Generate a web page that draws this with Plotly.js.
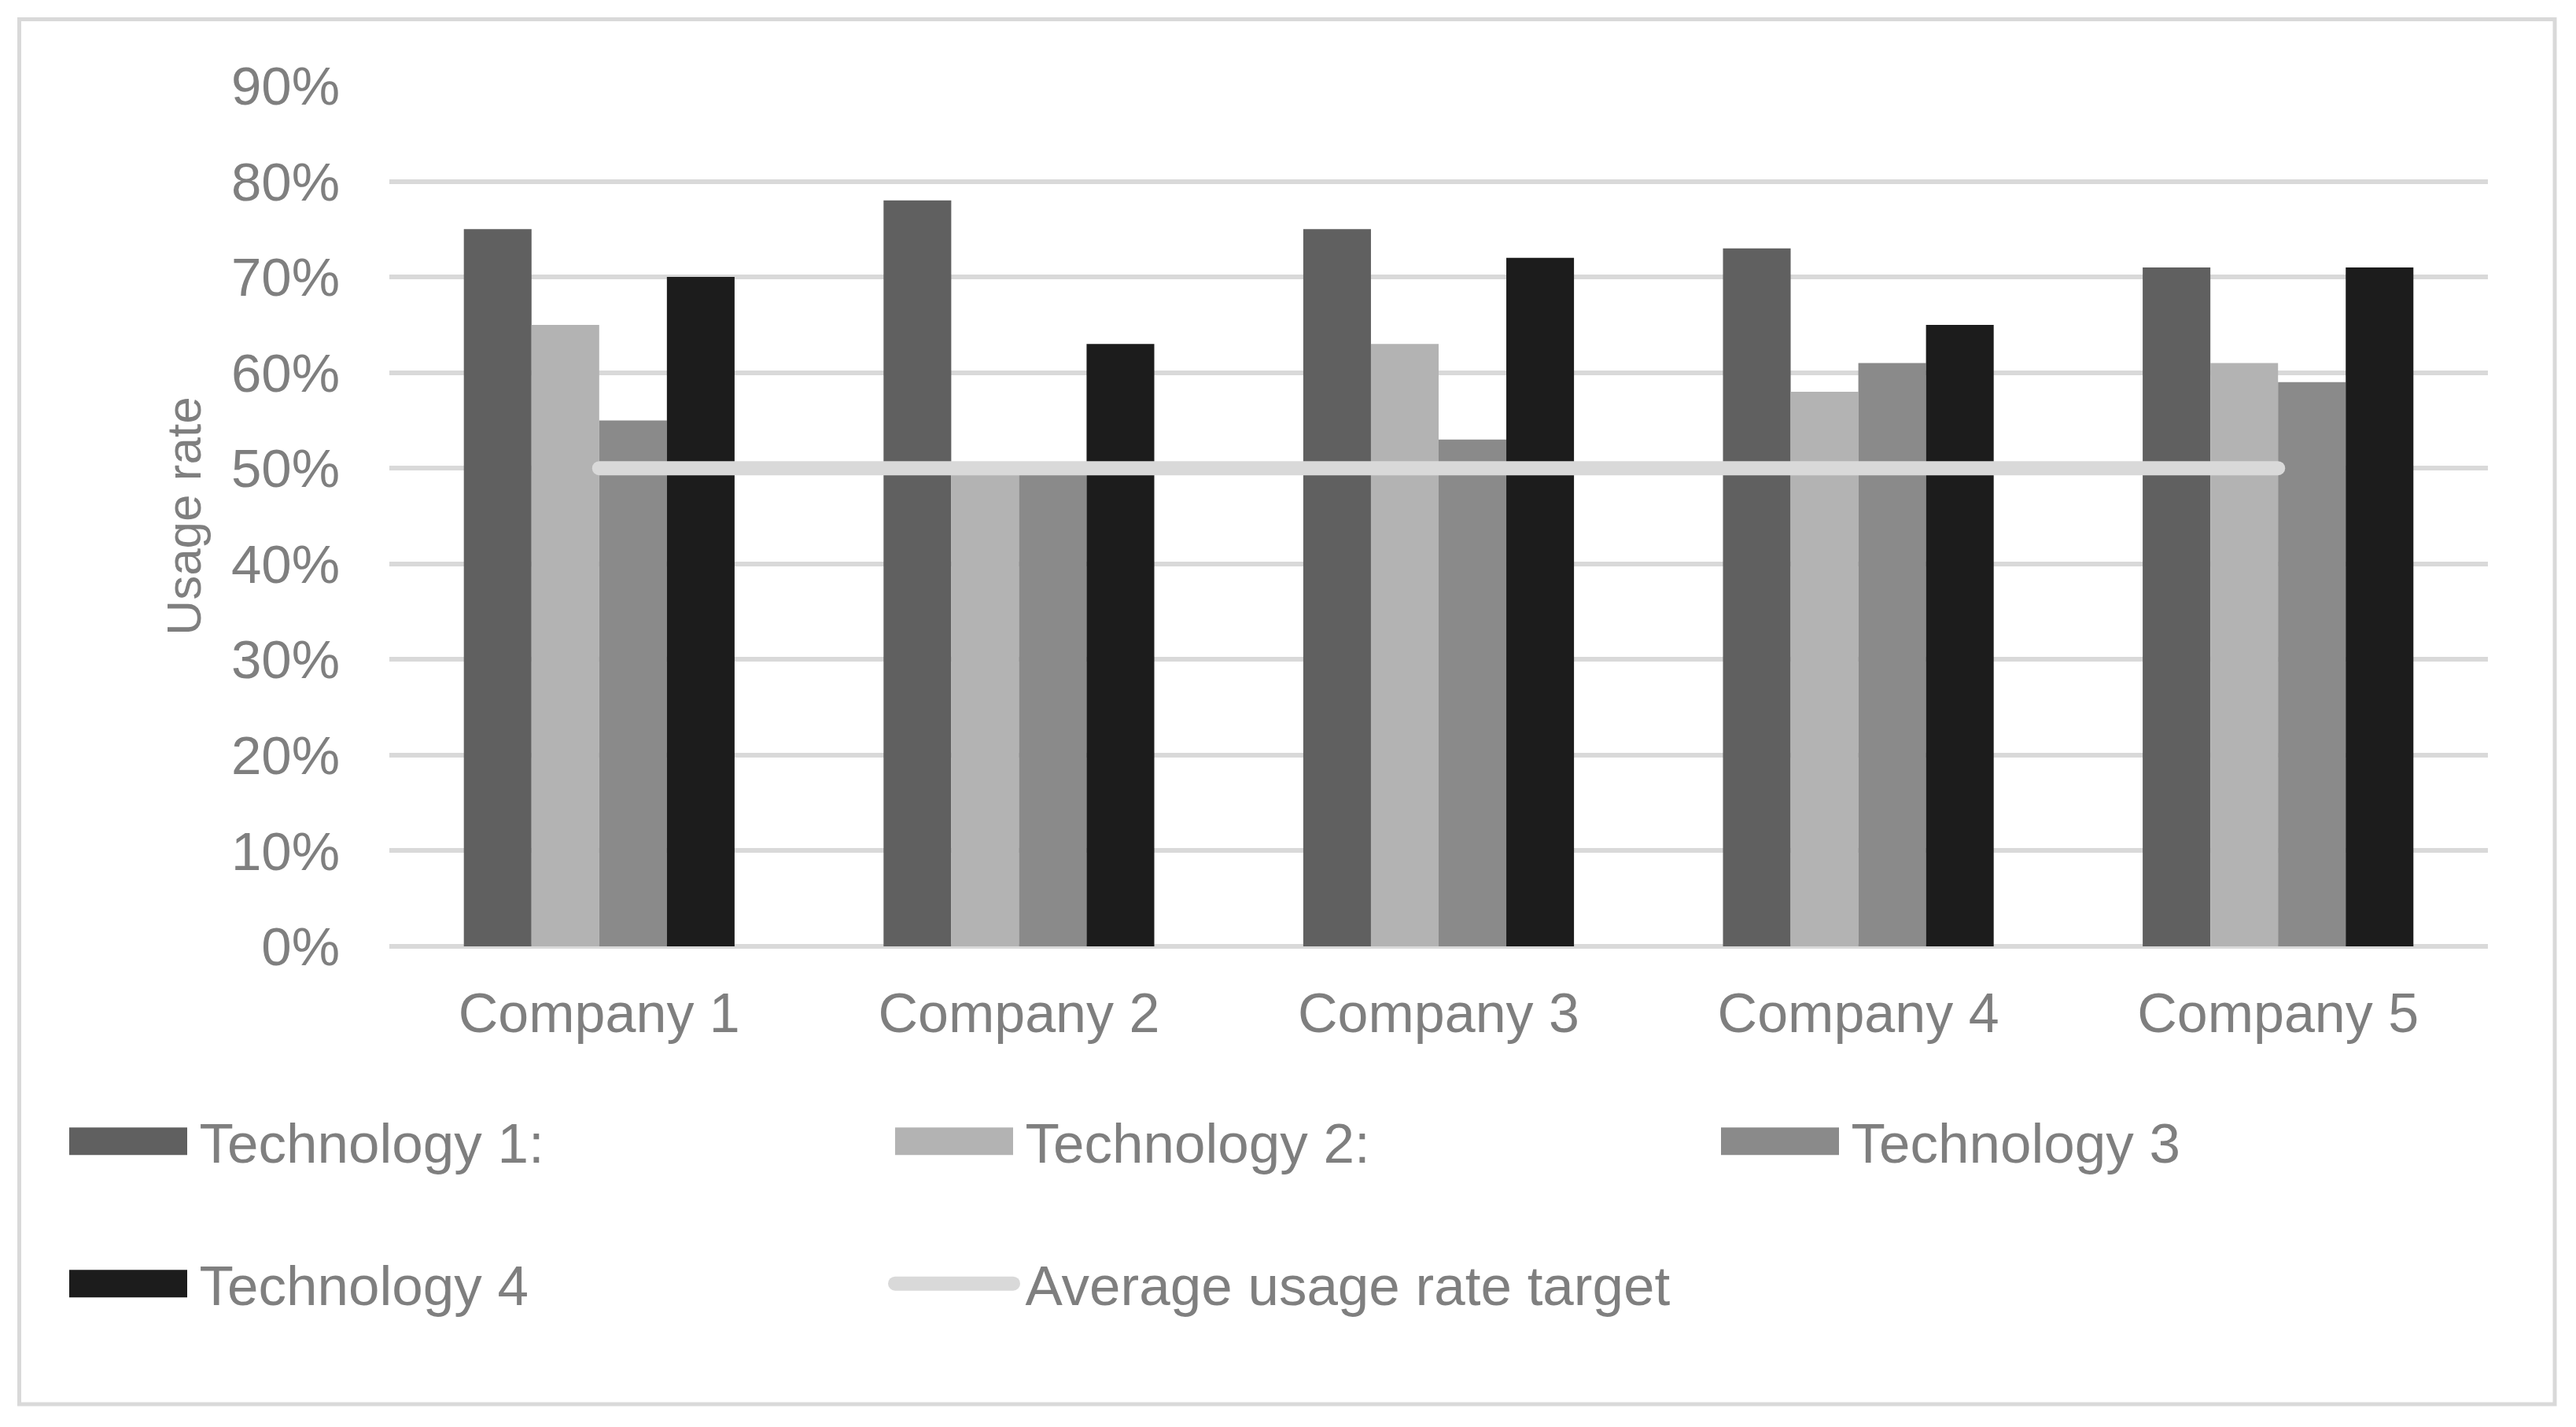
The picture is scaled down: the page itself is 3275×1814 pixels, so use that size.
<!DOCTYPE html>
<html>
<head>
<meta charset="utf-8">
<script src="https://cdn.plot.ly/plotly-3.0.1.min.js"></script>
<style>
  html, body { margin: 0; padding: 0; background: #ffffff; }
  #chart { width: 3275px; height: 1814px; }
</style>
</head>
<body>
<div id="chart"></div>
<script>
// ---- data ----
const categories = ['Company 1', 'Company 2', 'Company 3', 'Company 4', 'Company 5'];
const seriesNames = ['Technology 1:', 'Technology 2:', 'Technology 3', 'Technology 4', 'Average usage rate target'];
const tech1 = [0.75, 0.78, 0.75, 0.73, 0.71];
const tech2 = [0.65, 0.50, 0.63, 0.58, 0.61];
const tech3 = [0.55, 0.50, 0.53, 0.61, 0.59];
const tech4 = [0.70, 0.63, 0.72, 0.65, 0.71];
const avgTarget = [0.50, 0.50, 0.50, 0.50, 0.50];
const yTickVals = [0, 0.1, 0.2, 0.3, 0.4, 0.5, 0.6, 0.7, 0.8, 0.9];
const yTickText = ['0%', '10%', '20%', '30%', '40%', '50%', '60%', '70%', '80%', '90%'];
const yAxisTitle = 'Usage rate';

// ---- styling ----
const colors = ['#606060', '#b3b3b3', '#8a8a8a', '#1c1c1c', '#d9d9d9'];
const textColor = '#7f7f7f';
const fontFamily = '"Liberation Sans", Arial, sans-serif';

const barSeries = [tech1, tech2, tech3, tech4];
const data = barSeries.map((vals, i) => ({
  type: 'bar',
  name: seriesNames[i],
  x: categories,
  y: vals,
  marker: { color: colors[i], line: { width: 0 } },
  legend: i < 3 ? 'legend' : 'legend2',
  hoverinfo: 'skip'
}));
data.push({
  type: 'scatter',
  mode: 'lines',
  name: seriesNames[4],
  x: categories,
  y: avgTarget,
  line: { color: colors[4], width: 18 },
  legend: 'legend2',
  hoverinfo: 'skip'
});

const W = 3275, H = 1814;
const L = 495, R = 112, T = 109, B = 611;
const pw = W - L - R, ph = H - T - B;
const px2x = p => (p - L) / pw;
const py2y = p => (H - B - p) / ph;

const legendCommon = {
  orientation: 'h',
  xref: 'paper', yref: 'paper',
  xanchor: 'left', yanchor: 'middle',
  bgcolor: 'rgba(0,0,0,0)',
  borderwidth: 0,
  font: { family: fontFamily, size: 71, color: textColor },
  itemwidth: 171,
  entrywidth: 864,
  entrywidthmode: 'pixels',
  traceorder: 'normal',
  itemclick: false, itemdoubleclick: false
};

const layout = {
  width: W, height: H,
  margin: { l: L, r: R, t: T, b: B, autoexpand: false },
  paper_bgcolor: '#ffffff',
  plot_bgcolor: '#ffffff',
  font: { family: fontFamily, color: textColor },
  barmode: 'group',
  bargap: 0.355,
  bargroupgap: 0,
  xaxis: {
    type: 'category',
    showgrid: false,
    showline: false,
    zeroline: false,
    ticks: '',
    tickfont: { family: fontFamily, size: 70, color: textColor },
    ticklabelstandoff: 38,
    fixedrange: true
  },
  yaxis: {
    range: [0, 0.9],
    tickmode: 'array',
    tickvals: yTickVals,
    ticktext: yTickText,
    showgrid: true,
    gridcolor: '#d9d9d9',
    gridwidth: 6,
    zeroline: true,
    zerolinecolor: '#d9d9d9',
    zerolinewidth: 6,
    showline: false,
    ticks: '',
    tickfont: { family: fontFamily, size: 69, color: textColor },
    ticklabelstandoff: 62,
    title: { text: yAxisTitle, font: { family: fontFamily, size: 62, color: textColor }, standoff: 18 },
    fixedrange: true
  },
  showlegend: true,
  legend: Object.assign({}, legendCommon, { x: px2x(72.5), y: py2y(1451) }),
  legend2: Object.assign({}, legendCommon, { x: px2x(72.5), y: py2y(1632) }),
  shapes: [{
    type: 'rect', xref: 'paper', yref: 'paper', layer: 'below',
    x0: px2x(24.5), x1: px2x(3248), y0: py2y(1785), y1: py2y(24.5),
    line: { color: '#d9d9d9', width: 5 }, fillcolor: 'rgba(0,0,0,0)'
  }]
};

const gd = document.getElementById('chart');
Plotly.newPlot(gd, data, layout, { displayModeBar: false, responsive: false }).then(function () {
  // enlarge legend symbols to match the reference style
  gd.querySelectorAll('.infolayer .traces').forEach(function (tr) {
    const barPath = tr.querySelector('.legendpoints path');
    if (barPath) {
      barPath.setAttribute('d', 'M75,17.5H-75V-17.5H75Z');
    }
    const linePath = tr.querySelector('.legendlines path');
    if (linePath) {
      const bb = linePath.getBBox();
      const cx = bb.x + bb.width / 2;
      linePath.setAttribute('d', 'M' + (cx - 75) + ',0h150');
      linePath.style.strokeWidth = '18px';
      linePath.style.strokeLinecap = 'round';
    }
  });
  gd.querySelectorAll('.scatterlayer .js-line').forEach(function (p) {
    p.style.strokeLinecap = 'round';
  });
});
</script>
</body>
</html>
